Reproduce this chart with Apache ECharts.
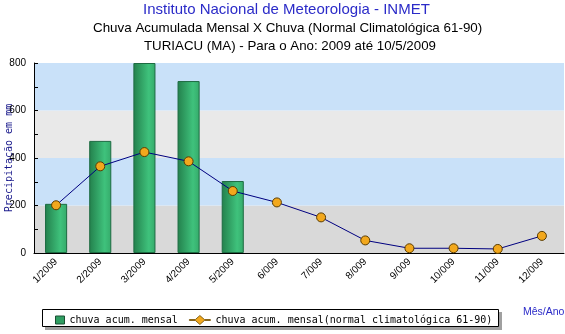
<!DOCTYPE html>
<html>
<head>
<meta charset="utf-8">
<script src="https://cdn.jsdelivr.net/npm/echarts@6/dist/echarts.min.js"></script>
<style>html,body{margin:0;padding:0;background:#fff}#c{width:565px;height:334px}</style>
</head>
<body>
<div id="c"></div>
<script>
var categories = ['1/2009','2/2009','3/2009','4/2009','5/2009','6/009','7/009','8/009','9/009','10/009','11/009','12/009'];
var chuvaMensal = [207, 472, 800, 724, 303, null, null, null, null, null, null, null];
var chuvaNormal = [201, 365, 425, 386, 261, 213, 150, 53, 20, 20, 17, 72];
var yTicks = [0, 200, 400, 600, 800];

var chart = echarts.init(document.getElementById('c'), null, {renderer: 'canvas'});
var sans = '"Liberation Sans", Arial, sans-serif';
var mono = '"DejaVu Sans Mono", monospace';
chart.setOption({
  animation: false,
  backgroundColor: '#ffffff',
  title: [
    {text: 'Instituto Nacional de Meteorologia - INMET', left: 143, top: 2, padding: 0,
     textStyle: {fontFamily: sans, fontSize: 15, fontWeight: 'normal', color: '#2b2bc8'}},
    {text: 'Chuva Acumulada Mensal X Chuva (Normal Climatológica 61-90)', left: 93, top: 22, padding: 0,
     textStyle: {fontFamily: sans, fontSize: 13.4, fontWeight: 'normal', color: '#000'}},
    {text: 'TURIACU (MA) - Para o Ano: 2009 até 10/5/2009', left: 144, top: 40, padding: 0,
     textStyle: {fontFamily: sans, fontSize: 13.3, fontWeight: 'normal', color: '#000'}},
    {text: 'Mês/Ano', left: 523, top: 307, padding: 0,
     textStyle: {fontFamily: sans, fontSize: 10.5, fontWeight: 'normal', color: '#2b2bc8'}}
  ],
  graphic: [
    {type: 'rect', shape: {x: 45, y: 312, width: 457, height: 18}, style: {fill: '#a0a0a0'}, z: 0},
    {type: 'rect', shape: {x: 42.5, y: 309.5, width: 456, height: 17}, style: {fill: '#ffffff', stroke: '#000', lineWidth: 1}, z: 1}
  ],
  legend: [
    {data: [{name: 'chuva acum. mensal', icon: 'rect', itemStyle: {color: '#2f9e62', borderColor: '#1b4f33', borderWidth: 1}}],
     left: 55, top: 315, padding: 0, itemWidth: 9, itemHeight: 8, z: 5, selectedMode: false,
     textStyle: {fontFamily: mono, fontSize: 10, color: '#000'}},
    {data: [{name: 'chuva acum. mensal(normal climatológica 61-90)',
             icon: 'path://M0,4 L6,4 L10.5,0 L15,4 L21,4 L21,5 L15,5 L10.5,9 L6,5 L0,5 Z',
             itemStyle: {color: '#f2a81d', borderColor: '#6a4a00', borderWidth: 0.8}}],
     left: 189, top: 315, padding: 0, itemWidth: 21, itemHeight: 9, z: 5, selectedMode: false,
     textStyle: {fontFamily: mono, fontSize: 10, color: '#000'}}
  ],
  grid: {left: 34, right: 1, top: 63, bottom: 81, outerBoundsMode: 'none', containLabel: false},
  xAxis: {
    type: 'category', data: categories, boundaryGap: true,
    axisLine: {lineStyle: {color: '#000', width: 1}},
    axisTick: {inside: true, length: 5, lineStyle: {color: '#000'}},
    axisLabel: {rotate: 45, fontFamily: sans, fontSize: 10, color: '#000', margin: 7, interval: 0},
    splitLine: {show: false}
  },
  yAxis: [{
    type: 'value', min: yTicks[0], max: yTicks[yTicks.length - 1], interval: 200,
    name: 'Precipitação em mm', nameLocation: 'middle', nameGap: 20, nameMoveOverlap: false,
    nameTextStyle: {fontFamily: mono, fontSize: 10, color: '#1a1a8c'},
    axisLine: {show: true, lineStyle: {color: '#000', width: 1}},
    axisTick: {show: false},
    axisLabel: {fontFamily: sans, fontSize: 10, color: '#000', margin: 8},
    splitLine: {show: false},
    splitArea: {show: true, areaStyle: {color: ['#d9d9d9', '#c9e1f9', '#e9e9e9', '#c9e1f9']}}
  }, {
    type: 'value', position: 'left', offset: 0, min: yTicks[0], max: yTicks[yTicks.length - 1], interval: 100,
    axisLine: {show: false},
    axisTick: {show: true, inside: true, length: 4, lineStyle: {color: '#000'}},
    axisLabel: {show: false},
    splitLine: {show: false},
    splitArea: {show: false}
  }],
  series: [
    {name: 'chuva acum. mensal', type: 'bar', data: chuvaMensal, barWidth: '50%',
     itemStyle: {
       color: {type: 'linear', x: 0, y: 0, x2: 1, y2: 0, colorStops: [
         {offset: 0, color: '#23804c'}, {offset: 0.7, color: '#3fc27c'}, {offset: 1, color: '#35aa6a'}]},
       borderColor: '#1d6b42', borderWidth: 1
     }, z: 2},
    {name: 'chuva acum. mensal(normal climatológica 61-90)', type: 'line', data: chuvaNormal,
     symbol: 'circle', symbolSize: 9,
     lineStyle: {color: '#000080', width: 1},
     itemStyle: {color: '#f2a81d', borderColor: '#5a3c00', borderWidth: 1}, z: 3}
  ]
});
</script>
</body>
</html>
